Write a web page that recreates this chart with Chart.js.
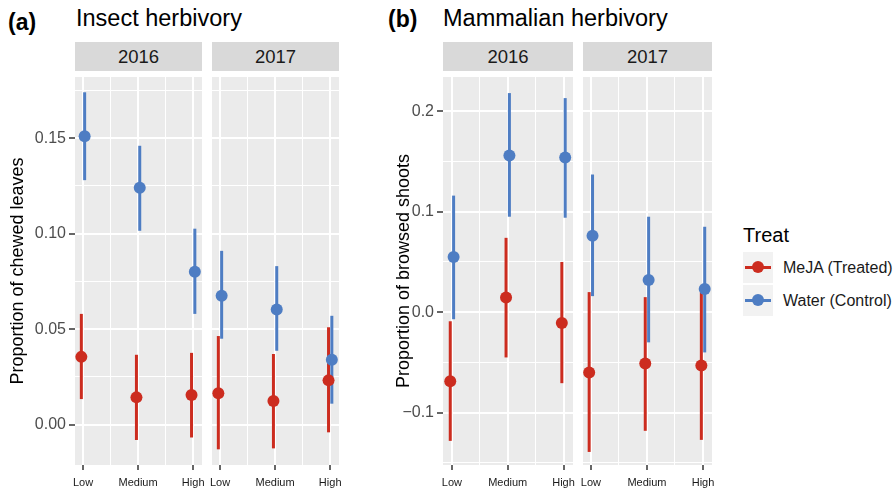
<!DOCTYPE html>
<html>
<head>
<meta charset="utf-8">
<script src="https://cdn.jsdelivr.net/npm/chart.js@4.4.0/dist/chart.umd.min.js"></script>
<style>
  body {
    margin: 0;
    width: 896px;
    height: 489px;
    overflow: hidden;
    background: #fff;
    position: relative;
    font-family: "Liberation Sans", Arial, sans-serif;
    color: #1a1a1a;
  }
  .txt { position: absolute; white-space: nowrap; line-height: 1; }
  .tag { font-weight: bold; font-size: 23px; color: #000; }
  .title { font-size: 23.5px; color: #000; }
  .strip {
    position: absolute; top: 42px; height: 29px; line-height: 29px;
    background: #d9d9d9; font-size: 18.5px; text-align: center; color: #1a1a1a;
  }
  canvas { position: absolute; top: 71px; }
  .key { position: absolute; left: 743px; width: 30px; height: 31px; background: #f2f2f2; }
  .key .ln { position: absolute; left: 2px; width: 26px; top: 14px; height: 3px; }
  .key .dot { position: absolute; left: 9px; top: 9px; width: 12px; height: 12px; border-radius: 50%; }
  .lab { position: absolute; left: 783px; font-size: 16px; line-height: 31px; white-space: nowrap; color: #1a1a1a; }
</style>
</head>
<body>
<div class="txt tag" style="left:8px; top:11px;">(a)</div>
<div class="txt title" style="left:76px; top:7px;">Insect herbivory</div>
<div class="txt tag" style="left:388px; top:8px;">(b)</div>
<div class="txt title" style="left:443px; top:7px;">Mammalian herbivory</div>

<div class="strip" style="left:75px; width:127px;">2016</div>
<div class="strip" style="left:212px; width:127px;">2017</div>
<div class="strip" style="left:443px; width:130px;">2016</div>
<div class="strip" style="left:583px; width:129px;">2017</div>

<canvas id="a2016" width="212" height="418" style="left:0px;"></canvas>
<canvas id="a2017" width="147" height="418" style="left:202px;"></canvas>
<canvas id="b2016" width="195" height="418" style="left:388px;"></canvas>
<canvas id="b2017" width="149" height="418" style="left:573px;"></canvas>

<div class="txt" style="left:743px; top:225px; font-size:20px; color:#000;">Treat</div>
<div class="key" style="top:252px;"><div class="ln" style="background:#cc2c1f"></div><div class="dot" style="background:#cc2c1f"></div></div>
<div class="lab" style="top:252px;">MeJA (Treated)</div>
<div class="key" style="top:285px;"><div class="ln" style="background:#4e7dc3"></div><div class="dot" style="background:#4e7dc3"></div></div>
<div class="lab" style="top:285px;">Water (Control)</div>

<script>
const levels = ["Low", "Medium", "High"];

// (a) proportion of chewed leaves: mean, lower and upper ends of the bars
const insectMeja2016 = [0.0355, 0.0143, 0.0155];
const insectMeja2016Lo = [0.0134, -0.008, -0.0067];
const insectMeja2016Hi = [0.058, 0.0366, 0.0376];
const insectWater2016 = [0.151, 0.124, 0.080];
const insectWater2016Lo = [0.128, 0.1015, 0.058];
const insectWater2016Hi = [0.174, 0.146, 0.1026];
const insectMeja2017 = [0.0165, 0.0124, 0.0232];
const insectMeja2017Lo = [-0.0129, -0.0124, -0.004];
const insectMeja2017Hi = [0.0464, 0.037, 0.051];
const insectWater2017 = [0.0675, 0.0603, 0.034];
const insectWater2017Lo = [0.045, 0.0387, 0.011];
const insectWater2017Hi = [0.091, 0.083, 0.057];

// (b) proportion of browsed shoots
const mammalMeja2016 = [-0.0686, 0.0147, -0.0108];
const mammalMeja2016Lo = [-0.128, -0.045, -0.0706];
const mammalMeja2016Hi = [-0.009, 0.074, 0.050];
const mammalWater2016 = [0.055, 0.156, 0.154];
const mammalWater2016Lo = [-0.007, 0.095, 0.094];
const mammalWater2016Hi = [0.116, 0.218, 0.213];
const mammalMeja2017 = [-0.060, -0.051, -0.053];
const mammalMeja2017Lo = [-0.139, -0.118, -0.127];
const mammalMeja2017Hi = [0.020, 0.015, 0.020];
const mammalWater2017 = [0.076, 0.032, 0.023];
const mammalWater2017Lo = [0.016, -0.030, -0.040];
const mammalWater2017Hi = [0.137, 0.095, 0.085];

const insectTicks = [0, 0.05, 0.1, 0.15];
const mammalTicks = [-0.1, 0, 0.1, 0.2];

const RED = "#cc2c1f";
const BLUE = "#4e7dc3";
const DODGE = 0.03;

Chart.defaults.font.family = '"Liberation Sans", Arial, sans-serif';

const panelBg = {
  id: "panelBg",
  beforeDraw(chart) {
    const { ctx, chartArea: a } = chart;
    ctx.save();
    ctx.fillStyle = "#ebebeb";
    ctx.fillRect(a.left, a.top, a.right - a.left, a.bottom - a.top);
    ctx.restore();
  },
};

const errorBars = {
  id: "errorBars",
  beforeDatasetsDraw(chart) {
    const { ctx } = chart;
    const x = chart.scales.x;
    const y = chart.scales.y;
    ctx.save();
    ctx.lineWidth = 3;
    chart.data.datasets.forEach((ds) => {
      ctx.strokeStyle = ds.backgroundColor;
      ds.data.forEach((p, i) => {
        const px = x.getPixelForValue(p.x);
        ctx.beginPath();
        ctx.moveTo(px, y.getPixelForValue(ds.lo[i]));
        ctx.lineTo(px, y.getPixelForValue(ds.hi[i]));
        ctx.stroke();
      });
    });
    ctx.restore();
  },
};

function withMinors(majors, min, max) {
  const step = (majors[1] - majors[0]) / 2;
  const out = [];
  for (let v = majors[0] - step; v <= majors[majors.length - 1] + step + 1e-9; v += step) {
    const r = Math.round(v * 10000) / 10000;
    if (r >= min && r <= max) out.push(r);
  }
  return out;
}

function isIn(list, v) {
  return list.some((m) => Math.abs(m - v) < 1e-9);
}

function points(vals, shift) {
  return vals.map((v, i) => ({ x: i + 1 + shift, y: v }));
}

function makeFacet(id, o) {
  const yAll = withMinors(o.majors, o.yMin, o.yMax);
  const xMajors = [1, 2, 3];
  new Chart(document.getElementById(id), {
    type: "scatter",
    data: {
      datasets: [
        {
          label: "MeJA (Treated)",
          data: points(o.meja, -DODGE),
          lo: o.mejaLo,
          hi: o.mejaHi,
          backgroundColor: RED,
          borderWidth: 0,
          pointRadius: 6,
          pointHoverRadius: 6,
        },
        {
          label: "Water (Control)",
          data: points(o.water, DODGE),
          lo: o.waterLo,
          hi: o.waterHi,
          backgroundColor: BLUE,
          borderWidth: 0,
          pointRadius: 6,
          pointHoverRadius: 6,
        },
      ],
    },
    options: {
      responsive: false,
      animation: false,
      events: [],
      layout: { padding: { left: o.padLeft, right: 10, top: 0, bottom: 0 } },
      plugins: { legend: { display: false }, tooltip: { enabled: false } },
      scales: {
        x: {
          type: "linear",
          min: o.xMin,
          max: o.xMax,
          border: { display: false },
          afterBuildTicks: (axis) => {
            axis.ticks = [1, 1.5, 2, 2.5, 3].map((v) => ({ value: v }));
          },
          afterFit: (axis) => {
            axis.height = 24;
            axis.paddingLeft = 0;
            axis.paddingRight = 0;
          },
          ticks: {
            autoSkip: false,
            maxRotation: 0,
            padding: 6,
            color: "#1a1a1a",
            font: { size: 11 },
            callback: (v) => (isIn(xMajors, v) ? levels[Math.round(v) - 1] : ""),
          },
          grid: {
            color: "#ffffff",
            lineWidth: (c) => (c.tick && isIn(xMajors, c.tick.value) ? 2 : 1),
            tickLength: 5,
            tickWidth: 1.5,
            tickColor: (c) =>
              c.tick && isIn(xMajors, c.tick.value) ? "#333333" : "rgba(0,0,0,0)",
          },
        },
        y: {
          type: "linear",
          min: o.yMin,
          max: o.yMax,
          border: { display: false },
          afterBuildTicks: (axis) => {
            axis.ticks = yAll.map((v) => ({ value: v }));
          },
          afterFit: (axis) => {
            axis.width = o.yWidth;
            axis.paddingTop = 0;
            axis.paddingBottom = 0;
          },
          title: {
            display: o.showY,
            text: o.yTitle,
            color: "#000000",
            font: { size: 18 },
            padding: { top: o.titlePad, bottom: 0 },
          },
          ticks: {
            display: o.showY,
            padding: 3,
            color: "#4d4d4d",
            font: { size: 16 },
            callback: (v) => (isIn(o.majors, v) ? o.fmt(v) : ""),
          },
          grid: {
            color: "#ffffff",
            drawTicks: o.showY,
            lineWidth: (c) => (c.tick && isIn(o.majors, c.tick.value) ? 2 : 1),
            tickLength: 6,
            tickWidth: 1.5,
            tickColor: (c) =>
              c.tick && isIn(o.majors, c.tick.value) ? "#333333" : "rgba(0,0,0,0)",
          },
        },
      },
    },
    plugins: [panelBg, errorBars],
  });
}

const fmtInsect = (v) => v.toFixed(2);
const fmtMammal = (v) => v.toFixed(1).replace("-", "\u2212");

makeFacet("a2016", {
  meja: insectMeja2016, mejaLo: insectMeja2016Lo, mejaHi: insectMeja2016Hi,
  water: insectWater2016, waterLo: insectWater2016Lo, waterHi: insectWater2016Hi,
  majors: insectTicks, yMin: -0.0211, yMax: 0.182, xMin: 0.855, xMax: 3.16,
  showY: true, yTitle: "Proportion of chewed leaves", yWidth: 75, padLeft: 0,
  titlePad: 7, fmt: fmtInsect,
});
makeFacet("a2017", {
  meja: insectMeja2017, mejaLo: insectMeja2017Lo, mejaHi: insectMeja2017Hi,
  water: insectWater2017, waterLo: insectWater2017Lo, waterHi: insectWater2017Hi,
  majors: insectTicks, yMin: -0.0211, yMax: 0.182, xMin: 0.855, xMax: 3.16,
  showY: false, yTitle: "", yWidth: 0, padLeft: 10, titlePad: 0, fmt: fmtInsect,
});
makeFacet("b2016", {
  meja: mammalMeja2016, mejaLo: mammalMeja2016Lo, mejaHi: mammalMeja2016Hi,
  water: mammalWater2016, waterLo: mammalWater2016Lo, waterHi: mammalWater2016Hi,
  majors: mammalTicks, yMin: -0.152, yMax: 0.234, xMin: 0.84, xMax: 3.17,
  showY: true, yTitle: "Proportion of browsed shoots", yWidth: 55, padLeft: 0,
  titlePad: 5, fmt: fmtMammal,
});
makeFacet("b2017", {
  meja: mammalMeja2017, mejaLo: mammalMeja2017Lo, mejaHi: mammalMeja2017Hi,
  water: mammalWater2017, waterLo: mammalWater2017Lo, waterHi: mammalWater2017Hi,
  majors: mammalTicks, yMin: -0.152, yMax: 0.234, xMin: 0.86, xMax: 3.16,
  showY: false, yTitle: "", yWidth: 0, padLeft: 10, titlePad: 0, fmt: fmtMammal,
});
</script>
</body>
</html>
